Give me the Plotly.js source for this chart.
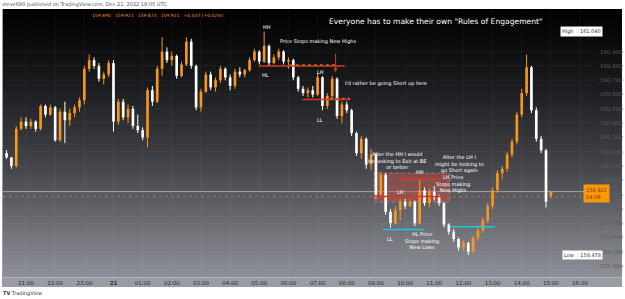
<!DOCTYPE html>
<html><head><meta charset="utf-8">
<script src="https://cdn.plot.ly/plotly-3.0.1.min.js"></script>
<style>
html,body{margin:0;padding:0;background:#fff;}
#wrap{position:relative;width:625px;height:299px;overflow:hidden;background:#fff;font-family:"DejaVu Sans",sans-serif;}
#bg{position:absolute;left:3px;top:9px;width:619px;height:268px;background:linear-gradient(to bottom,#000 0%,#050506 6%,#1c1d20 30%,#45474c 60%,#6f7177 82%,#8d9096 100%);}
#axband{position:absolute;left:3px;top:277px;width:619px;height:10px;background:#9a9ca4;border-top:1px solid #b3b5bb;box-sizing:border-box;}
#lborder{position:absolute;left:2px;top:9px;width:1px;height:278px;background:#9a9ca2;}
#chart{position:absolute;left:0;top:0;width:625px;height:299px;}
#pub{position:absolute;left:2px;top:1px;font-size:5px;color:#555;}
#tv{position:absolute;left:3px;top:290px;font-size:5px;color:#333;}
</style></head>
<body><div id="wrap"><div id="bg"></div><div id="axband"></div><div id="lborder"></div>
<div id="pub">steve690 published on TradingView.com, Dec 21, 2022 18:05 UTC</div>
<div id="tv"><b>TV</b> TradingView</div>
<div id="chart"></div></div>
<script>
// ---- data ----
const startTime = '2022-12-20 20:20';
const stepMinutes = 10;
const opens = [160.19,160.16,160.10,160.36,160.41,160.38,160.41,160.36,160.52,160.46,160.51,160.28,160.48,160.42,160.47,160.51,160.56,160.78,160.84,160.80,160.71,160.74,160.82,160.41,160.55,160.44,160.50,160.38,160.35,160.30,160.63,160.55,160.78,160.90,160.84,160.87,160.73,160.81,160.97,160.80,160.51,160.62,160.74,160.65,160.70,160.78,160.72,160.66,160.76,160.74,160.77,160.84,160.90,160.83,160.94,160.82,160.86,160.90,160.83,160.84,160.72,160.64,160.61,160.63,160.60,160.72,160.52,160.59,160.71,160.45,160.53,160.49,160.33,160.19,160.29,160.11,160.18,159.90,160.04,159.78,159.70,159.79,159.85,159.82,159.85,159.70,159.93,159.84,159.92,159.88,159.84,159.69,159.64,159.59,159.53,159.56,159.50,159.60,159.65,159.72,159.82,159.93,160.05,160.08,160.18,160.27,160.46,160.61,160.79,160.49,160.29,160.21,159.890];
const highs = [160.21,160.16,160.38,160.44,160.44,160.43,160.42,160.53,160.53,160.53,160.52,160.50,160.55,160.50,160.53,160.58,160.80,160.88,160.86,160.82,160.76,160.84,160.84,160.57,160.57,160.53,160.52,160.46,160.37,160.65,160.66,160.80,161.00,160.93,160.90,160.88,160.83,161.00,160.99,160.81,160.64,160.76,160.76,160.72,160.80,160.79,160.74,160.78,160.79,160.78,160.86,160.92,160.91,161.04,160.95,160.88,160.92,160.91,160.86,160.85,160.73,160.66,160.65,160.66,160.75,160.73,160.61,160.73,160.72,160.55,160.55,160.50,160.34,160.31,160.30,160.22,160.19,160.06,160.05,159.80,159.82,159.87,159.87,159.87,159.86,160.00,159.95,159.94,159.96,159.90,159.85,159.70,159.66,159.60,159.58,159.57,159.61,159.67,159.74,159.84,159.95,160.07,160.10,160.20,160.29,160.48,160.64,160.88,160.80,160.51,160.31,160.22,159.921];
const lows = [160.15,160.08,160.09,160.35,160.36,160.36,160.34,160.35,160.44,160.45,160.27,160.27,160.26,160.38,160.44,160.48,160.53,160.76,160.78,160.69,160.67,160.72,160.34,160.39,160.42,160.40,160.36,160.33,160.28,160.23,160.52,160.54,160.73,160.82,160.80,160.71,160.72,160.80,160.78,160.49,160.48,160.61,160.63,160.62,160.68,160.70,160.63,160.64,160.72,160.72,160.76,160.83,160.81,160.82,160.80,160.81,160.84,160.81,160.78,160.70,160.62,160.59,160.58,160.58,160.59,160.49,160.50,160.56,160.43,160.40,160.47,160.31,160.17,160.15,160.08,160.07,159.87,159.88,159.76,159.67,159.69,159.72,159.80,159.81,159.68,159.69,159.82,159.81,159.86,159.82,159.67,159.62,159.57,159.51,159.51,159.478,159.49,159.58,159.63,159.70,159.80,159.91,160.01,160.06,160.16,160.25,160.44,160.59,160.47,160.27,160.19,159.81,159.873];
const closes = [160.16,160.10,160.36,160.41,160.38,160.41,160.36,160.52,160.46,160.51,160.28,160.48,160.42,160.47,160.51,160.56,160.78,160.84,160.80,160.71,160.74,160.82,160.41,160.55,160.44,160.50,160.38,160.35,160.30,160.63,160.55,160.78,160.90,160.84,160.87,160.73,160.81,160.97,160.80,160.51,160.62,160.74,160.65,160.70,160.78,160.72,160.66,160.76,160.74,160.77,160.84,160.90,160.83,160.94,160.82,160.86,160.90,160.83,160.84,160.72,160.64,160.61,160.63,160.60,160.72,160.52,160.59,160.71,160.45,160.53,160.49,160.33,160.19,160.29,160.11,160.18,159.90,160.04,159.78,159.70,159.79,159.85,159.82,159.85,159.70,159.93,159.84,159.92,159.88,159.84,159.69,159.64,159.59,159.53,159.56,159.50,159.60,159.65,159.72,159.82,159.93,160.05,160.08,160.18,160.27,160.46,160.61,160.79,160.49,160.29,160.21,159.85,159.921];

const timeTickVals = ['2022-12-20 21:00','2022-12-20 22:00','2022-12-20 23:00','2022-12-21 00:00','2022-12-21 01:00','2022-12-21 02:00','2022-12-21 03:00','2022-12-21 04:00','2022-12-21 05:00','2022-12-21 06:00','2022-12-21 07:00','2022-12-21 08:00','2022-12-21 09:00','2022-12-21 10:00','2022-12-21 11:00','2022-12-21 12:00','2022-12-21 13:00','2022-12-21 14:00','2022-12-21 15:00','2022-12-21 16:00'];
const timeTickText = ['21:00','22:00','23:00','<b>21</b>','01:00','02:00','03:00','04:00','05:00','06:00','07:00','08:00','09:00','10:00','11:00','12:00','13:00','14:00','15:00','16:00'];
const priceTicks = [159.4,159.5,159.6,159.7,159.8,159.9,160.0,160.1,160.2,160.3,160.4,160.5,160.6,160.7,160.8,160.9];
const highValue = 161.040, lowValue = 159.478, lastValue = 159.921, lastCountdown = '04:08';
const refLevel = 159.885;

// drawn levels: [start, end, price]
const redLevels = [
  ['2022-12-21 04:59','2022-12-21 07:56',160.80],
  ['2022-12-21 06:28','2022-12-21 08:07',160.566],
  ['2022-12-21 09:50','2022-12-21 11:16',160.009],
  ['2022-12-21 08:58','2022-12-21 11:22',159.887]
];
const brownLevels = [
  ['2022-12-21 06:03','2022-12-21 07:38',160.806],
  ['2022-12-21 07:25','2022-12-21 08:07',160.572]
];
const cyanLevels = [
  ['2022-12-21 09:14','2022-12-21 10:39',159.657],
  ['2022-12-21 11:32','2022-12-21 13:05',159.676]
];
const zoneBox = ['2022-12-21 08:56','2022-12-21 11:32',159.848,160.051];
const arrowLine = ['2022-12-21 07:37',160.897,160.755];

const noteTexts = ['HH','Price Stops making New Highs','HL','LH',"I'd rather be going Short up here",'LL',
  'After the HH I would<br>be looking to Exit at BE<br>or better','After the LH I<br>might be looking to<br>go Short again',
  'HH','LH Price<br>Stops making<br>New Highs','LH','LL','HL Price<br>Stops making<br>New Lows'];
const noteTimes = ['2022-12-21 05:16','2022-12-21 07:01','2022-12-21 05:12','2022-12-21 07:05','2022-12-21 09:21','2022-12-21 07:05',
  '2022-12-21 09:43','2022-12-21 11:51','2022-12-21 10:31','2022-12-21 11:39','2022-12-21 09:50','2022-12-21 09:29','2022-12-21 10:35'];
const notePrices = [161.072,160.974,160.736,160.757,160.680,160.422,160.137,160.117,160.058,159.974,159.920,159.590,159.578];
const titleText = 'Everyone has to make their own "Rules of Engagement"';
const ohlcText = '159.890&nbsp;&nbsp;&nbsp;159.921&nbsp;&nbsp;&nbsp;159.873&nbsp;&nbsp;&nbsp;159.921&nbsp;&nbsp;&nbsp;+0.037 (+0.02%)';

// ---- build ----
function pad(n){return (n<10?'0':'')+n;}
function timeAt(i){
  const p = startTime.split(/[- :]/).map(Number);
  const d = new Date(Date.UTC(p[0],p[1]-1,p[2],p[3],p[4]) + i*stepMinutes*60000);
  return d.getUTCFullYear()+'-'+pad(d.getUTCMonth()+1)+'-'+pad(d.getUTCDate())+' '+pad(d.getUTCHours())+':'+pad(d.getUTCMinutes());
}
const times = closes.map((_,i)=>timeAt(i));
const ORANGE = '#f7961e';
const bodyWidthMs = stepMinutes*60000*0.55;

function candleTraces(isUp, color){
  const idx = closes.map((c,i)=>i).filter(i => isUp ? closes[i] >= opens[i] : closes[i] < opens[i]);
  const wx = [], wy = [];
  idx.forEach(i=>{ wx.push(times[i],times[i],null); wy.push(lows[i],highs[i],null); });
  const wick = {type:'scatter',mode:'lines',x:wx,y:wy,line:{color:color,width:1},hoverinfo:'skip',showlegend:false,connectgaps:false};
  const body = {type:'bar',x:idx.map(i=>times[i]),base:idx.map(i=>opens[i]),y:idx.map(i=>{const d=closes[i]-opens[i]; return Math.abs(d)<0.004?(isUp?0.004:-0.004):d;}),
    width:bodyWidthMs,marker:{color:color,line:{width:0}},hoverinfo:'skip',showlegend:false};
  return [wick, body];
}
const traces = [...candleTraces(true, ORANGE), ...candleTraces(false, '#ffffff')];

const shapes = [];
shapes.push({type:'line',xref:'paper',x0:0,x1:1,yref:'y',y0:lastValue,y1:lastValue,line:{color:'rgba(200,200,205,0.7)',width:1},layer:'below'});
shapes.push({type:'line',xref:'paper',x0:0,x1:1,yref:'y',y0:refLevel,y1:refLevel,line:{color:'rgba(230,130,60,0.7)',width:1,dash:'dot'},layer:'below'});
shapes.push({type:'rect',xref:'x',yref:'y',x0:zoneBox[0],x1:zoneBox[1],y0:zoneBox[2],y1:zoneBox[3],fillcolor:'rgba(205,80,70,0.42)',line:{color:'rgba(230,140,130,0.6)',width:1,dash:'dot'},layer:'below'});
redLevels.forEach(l=>shapes.push({type:'line',xref:'x',yref:'y',x0:l[0],x1:l[1],y0:l[2],y1:l[2],line:{color:'#e0331f',width:1.5}}));
brownLevels.forEach(l=>shapes.push({type:'line',xref:'x',yref:'y',x0:l[0],x1:l[1],y0:l[2],y1:l[2],line:{color:'rgba(190,120,50,0.9)',width:1.5,dash:'dot'}}));
cyanLevels.forEach(l=>shapes.push({type:'line',xref:'x',yref:'y',x0:l[0],x1:l[1],y0:l[2],y1:l[2],line:{color:'#27c6d6',width:1.5}}));

const NOTEFONT = {family:'"DejaVu Sans", sans-serif', size:5, color:'#ffffff'};
const annotations = noteTexts.map((t,i)=>({x:noteTimes[i],y:notePrices[i],xref:'x',yref:'y',text:t,showarrow:false,font:NOTEFONT,align:'center'}));
annotations.push({x:arrowLine[0],y:arrowLine[2],xref:'x',yref:'y',ax:arrowLine[0],ay:arrowLine[1],axref:'x',ayref:'y',text:'',showarrow:true,arrowhead:2,arrowsize:0.8,arrowwidth:1,arrowcolor:'#e0331f'});
annotations.push({x:'2022-12-21 11:03',y:161.114,xref:'x',yref:'y',text:titleText,showarrow:false,font:{family:'"DejaVu Sans", sans-serif',size:7.6,color:'#ffffff'}});
annotations.push({x:0.148,y:1.0,xref:'paper',yref:'paper',yanchor:'top',xanchor:'left',yshift:-2,text:ohlcText,showarrow:false,font:{family:'"DejaVu Sans", sans-serif',size:4.5,color:ORANGE}});
// price scale labels
annotations.push({x:1.017,y:highValue,xref:'paper',yref:'y',text:'High&nbsp;&nbsp;: '+highValue.toFixed(3),showarrow:false,font:{size:5,color:'#333',family:'"DejaVu Sans", sans-serif'},bgcolor:'#ffffff',borderpad:1});
annotations.push({x:1.017,y:lowValue,xref:'paper',yref:'y',text:'Low&nbsp;&nbsp;: '+lowValue.toFixed(3),showarrow:false,font:{size:5,color:'#333',family:'"DejaVu Sans", sans-serif'},bgcolor:'#ffffff',borderpad:1});
annotations.push({x:1.028,y:lastValue-0.015,xref:'paper',yref:'y',text:lastValue.toFixed(3)+'<br>'+lastCountdown,align:'left',showarrow:false,font:{size:5,color:'#5a3a00',family:'"DejaVu Sans", sans-serif'},bgcolor:'#ff9800',borderpad:2});

const layout = {
  width:625,height:299,
  margin:{l:3,r:32,t:9,b:22},
  paper_bgcolor:'rgba(0,0,0,0)',plot_bgcolor:'rgba(0,0,0,0)',
  showlegend:false, barmode:'overlay',
  xaxis:{type:'date',range:['2022-12-20 20:12:40','2022-12-21 16:26:40'],
    tickmode:'array',tickvals:timeTickVals,ticktext:timeTickText,showgrid:true,gridcolor:'rgba(255,255,255,0.035)',
    tickfont:{size:5.5,color:'#2b2b2b',family:'"DejaVu Sans", sans-serif'},ticks:'',ticklabelstandoff:1,zeroline:false,showline:false,fixedrange:true},
  yaxis:{side:'right',range:[159.324,161.198],tickmode:'array',tickvals:priceTicks,ticktext:priceTicks.map(v=>v.toFixed(3)),
    showgrid:true,gridcolor:'rgba(255,255,255,0.035)',tickfont:{size:5.5,color:'#5c5c5c',family:'"DejaVu Sans", sans-serif'},
    ticks:'',ticklabelstandoff:6,zeroline:false,showline:false,fixedrange:true},
  shapes:shapes, annotations:annotations
};
Plotly.newPlot('chart',traces,layout,{displayModeBar:false,staticPlot:true});
</script></body></html>
